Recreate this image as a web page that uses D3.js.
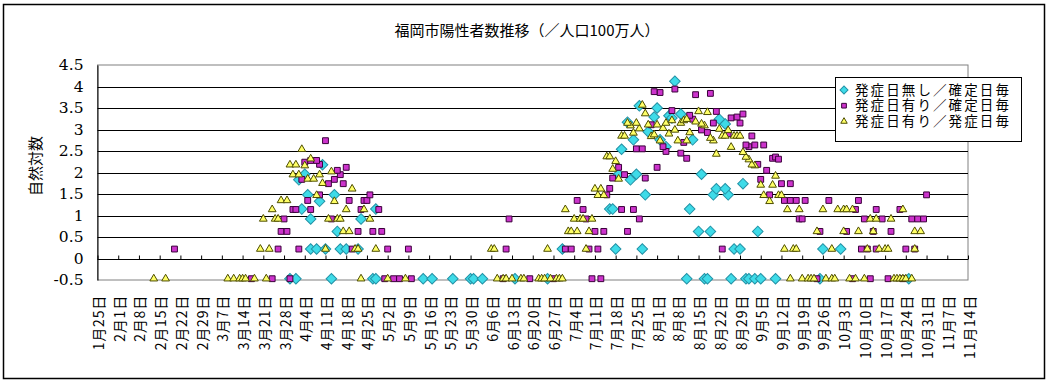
<!DOCTYPE html>
<html>
<head>
<meta charset="utf-8">
<script src="https://cdn.jsdelivr.net/npm/d3@7"></script>
<style>
  body { margin: 0; background: #fff; }
  svg { display: block; }
  text { fill: #000; }
</style>
</head>
<body>
<div id="chart"></div>
<script>
// ln(cases per million), per series  [date, value]
var seriesNoOnset = [
  ["3/30",-0.47],["4/1",-0.47],["4/13",-0.47],["4/27",-0.47],["4/28",-0.47],["5/14",-0.47],["5/17",-0.47],
  ["5/24",-0.47],["5/30",-0.47],["5/31",-0.47],["6/3",-0.47],["6/14",-0.47],["6/25",-0.47],["8/11",-0.47],
  ["8/17",-0.47],["8/18",-0.47],["8/26",-0.47],["8/31",-0.47],["9/1",-0.47],["9/3",-0.47],["9/5",-0.47],
  ["9/10",-0.47],["9/25",-0.47],["10/25",-0.47],
  ["4/6",0.22],["4/8",0.22],["4/11",0.22],["4/16",0.22],["4/18",0.22],["4/22",0.22],["6/30",0.22],
  ["7/18",0.22],["7/27",0.22],["8/27",0.22],["8/29",0.22],["9/26",0.22],["10/2",0.22],
  ["4/15",0.63],["8/15",0.63],["8/19",0.63],["9/4",0.63],
  ["4/6",0.92],["4/23",0.92],
  ["4/3",1.15],["4/28",1.15],["7/16",1.15],["7/17",1.15],["8/12",1.15],
  ["4/9",1.33],
  ["4/5",1.48],["4/14",1.48],["7/28",1.48],["8/20",1.48],["8/25",1.48],
  ["8/21",1.62],["8/24",1.62],["8/30",1.74],
  ["4/2",1.83],["7/23",1.83],
  ["4/4",1.96],["7/19",1.96],["7/25",1.96],["8/16",1.96],
  ["4/10",2.18],["7/20",2.54],["8/4",2.6],
  ["7/24",2.76],["8/2",2.76],["8/13",2.76],
  ["7/29",2.95],["8/24",3.13],["7/22",3.17],["8/22",3.24],["7/31",3.29],["8/5",3.32],["8/6",3.27],
  ["8/9",3.36],["8/1",3.5],["7/26",3.55],["8/7",4.12]
];

var seriesOnsetConfirmed = [
  ["3/17",-0.47],["3/24",-0.47],["3/30",-0.47],["5/1",-0.47],["5/4",-0.47],["5/6",-0.47],["5/10",-0.47],
  ["6/10",-0.47],["6/19",-0.47],["6/27",-0.47],["7/10",-0.47],["7/13",-0.47],["9/24",-0.47],["10/6",-0.47],
  ["10/12",-0.47],["10/18",-0.47],["10/23",-0.47],
  ["2/20",0.22],["3/26",0.22],["4/2",0.22],["4/20",0.22],["5/2",0.22],["5/9",0.22],["6/11",0.22],["7/1",0.22],
  ["7/3",0.22],["7/9",0.22],["7/12",0.22],["8/23",0.22],["10/9",0.22],["10/11",0.22],["10/14",0.22],
  ["10/24",0.22],["10/27",0.22],
  ["3/27",0.63],["3/29",0.63],["4/22",0.63],["4/27",0.63],["4/30",0.63],["7/11",0.63],["7/14",0.63],
  ["7/22",0.63],["9/25",0.63],["10/4",0.63],["10/13",0.63],["10/19",0.63],
  ["3/28",0.92],["4/13",0.92],["6/12",0.92],["7/8",0.92],["7/26",0.92],["9/18",0.92],["9/19",0.92],
  ["10/10",0.92],["10/16",0.92],["10/26",0.92],["10/28",0.92],["10/30",0.92],
  ["3/31",1.14],["4/1",1.14],["4/6",1.14],["4/23",1.14],["4/29",1.14],["7/7",1.14],["7/20",1.14],
  ["7/24",1.14],["10/7",1.14],["10/14",1.14],["10/22",1.14],
  ["4/5",1.35],["4/19",1.35],["4/24",1.35],["4/25",1.35],["7/5",1.35],["9/13",1.35],["9/15",1.35],
  ["9/17",1.35],["9/20",1.35],["9/28",1.35],["10/8",1.35],
  ["4/9",1.48],["4/26",1.48],["7/15",1.48],["9/8",1.48],["10/31",1.48],
  ["7/16",1.63],
  ["4/12",1.74],["4/17",1.74],["9/12",1.74],["9/15",1.74],
  ["4/3",1.84],["4/14",1.84],["9/5",1.84],
  ["7/17",1.87],["7/28",1.87],["4/16",1.95],["7/21",1.95],
  ["4/15",2.05],["9/7",2.05],
  ["4/18",2.12],["7/19",2.12],["8/1",2.12],
  ["4/9",2.19],["9/4",2.19],["4/4",2.24],["4/6",2.28],["4/8",2.28],
  ["8/11",2.33],["9/9",2.33],["9/10",2.36],["9/11",2.31],
  ["8/9",2.45],["8/4",2.49],["7/25",2.55],["7/27",2.55],
  ["8/3",2.6],["9/1",2.6],["8/31",2.64],["9/3",2.64],["9/6",2.64],
  ["8/10",2.7],["4/11",2.74],["9/2",2.85],["8/25",2.9],["8/18",2.93],["8/16",2.99],
  ["7/30",3.11],["8/20",3.15],["8/29",3.15],["8/13",3.24],["8/26",3.27],["8/28",3.29],
  ["8/12",3.33],["8/30",3.36],["8/21",3.42],["8/6",3.44],
  ["8/14",3.81],["8/19",3.84],["8/2",3.86],["7/31",3.88],["8/7",3.94]
];

var seriesOnsetOnset = [
  ["2/13",-0.47],["2/17",-0.47],["3/9",-0.47],["3/11",-0.47],["3/13",-0.47],["3/14",-0.47],["3/15",-0.47],
  ["3/18",-0.47],["3/22",-0.47],["4/23",-0.47],["5/2",-0.47],["5/8",-0.47],["6/8",-0.47],["6/10",-0.47],
  ["6/11",-0.47],["6/13",-0.47],["6/16",-0.47],["6/17",-0.47],["6/22",-0.47],["6/23",-0.47],["6/24",-0.47],
  ["6/26",-0.47],["6/28",-0.47],["6/29",-0.47],["6/30",-0.47],["9/15",-0.47],["9/19",-0.47],["9/21",-0.47],
  ["9/22",-0.47],["9/23",-0.47],["9/27",-0.47],["9/29",-0.47],["9/30",-0.47],["10/5",-0.47],["10/7",-0.47],
  ["10/10",-0.47],["10/20",-0.47],["10/21",-0.47],["10/22",-0.47],["10/23",-0.47],["10/24",-0.47],
  ["10/26",-0.47],
  ["3/20",0.22],["3/23",0.22],["4/11",0.22],["4/21",0.22],["4/22",0.22],["4/28",0.22],["6/6",0.22],
  ["6/7",0.22],["6/25",0.22],["7/8",0.22],["9/13",0.22],["9/16",0.22],["9/17",0.22],["9/29",0.22],
  ["10/11",0.22],["10/15",0.22],["10/17",0.22],["10/18",0.22],["10/27",0.22],
  ["4/17",0.63],["4/19",0.63],["7/2",0.63],["7/3",0.63],["7/5",0.63],["7/9",0.63],["9/24",0.63],
  ["10/3",0.63],["10/8",0.63],["10/13",0.63],["10/27",0.63],["10/29",0.63],
  ["3/21",0.92],["3/25",0.92],["3/26",0.92],["4/12",0.92],["4/15",0.92],["4/16",0.92],["4/26",0.92],
  ["7/4",0.92],["7/6",0.92],["7/7",0.92],["7/10",0.92],["10/12",0.92],["10/14",0.92],["10/19",0.92],
  ["3/24",1.14],["4/18",1.14],["4/24",1.14],["7/1",1.14],["9/14",1.14],["9/18",1.14],["9/26",1.14],
  ["10/1",1.14],["10/3",1.14],["10/4",1.14],["10/6",1.14],["10/23",1.14],
  ["4/14",1.33],["9/8",1.33],["3/27",1.35],["3/29",1.35],
  ["4/8",1.47],["7/12",1.47],["7/14",1.47],["9/6",1.47],["9/11",1.47],["9/12",1.47],
  ["4/20",1.62],["7/11",1.62],["7/13",1.62],
  ["9/5",1.71],["9/9",1.71],["4/10",1.75],
  ["4/5",1.85],["4/7",1.85],["7/19",1.85],["9/10",1.92],
  ["3/31",1.95],["4/2",1.95],["4/9",1.95],["4/13",2.02],["7/17",2.08],
  ["4/4",2.16],["9/3",2.16],["3/30",2.18],["4/1",2.18],["9/2",2.18],
  ["7/18",2.26],["9/1",2.3],["4/6",2.32],["8/31",2.36],["7/15",2.37],["7/16",2.37],
  ["8/21",2.43],["8/30",2.47],["4/3",2.54],["8/26",2.59],
  ["8/2",2.74],["8/8",2.74],["8/11",2.74],["8/20",2.74],["8/19",2.8],["7/30",2.84],
  ["7/20",2.85],["7/21",2.85],["8/23",2.85],["8/24",2.85],["8/27",2.85],["8/28",2.85],["8/29",2.85],
  ["7/31",2.88],["8/5",2.9],["7/24",2.92],["8/12",2.93],["8/25",2.98],["8/7",2.99],["8/22",3.01],
  ["7/26",3.02],["8/3",3.03],["7/23",3.09],["8/17",3.09],["7/29",3.11],["8/1",3.11],["8/16",3.13],
  ["7/22",3.15],["7/25",3.15],["8/4",3.15],["8/9",3.15],["8/14",3.18],["8/6",3.21],["8/10",3.21],
  ["8/11",3.24],["7/28",3.37],["8/18",3.4],["8/15",3.42],["7/27",3.57]
];

var seriesNames = ["発症日無し／確定日毎", "発症日有り／確定日毎", "発症日有り／発症日毎"];
var yTicks = [-0.5, 0, 0.5, 1, 1.5, 2, 2.5, 3, 3.5, 4, 4.5];
var xStart = "1/25", xEnd = "11/14";
var titleText = "福岡市陽性者数推移（／人口100万人）";
var yLabel = "自然対数";

var width = 1050, height = 384;
var parse = function(s) { return d3.timeParse("%Y/%m/%d")("2020/" + s); };

var svg = d3.select("#chart").append("svg")
  .attr("width", width)
  .attr("height", height);

// outer frame
svg.append("rect")
  .attr("x", 3.5).attr("y", 4.5)
  .attr("width", 1041).attr("height", 374)
  .attr("fill", "#fff")
  .attr("stroke", "#000")
  .attr("stroke-width", 1.5);

var x = d3.scaleTime()
  .domain([parse(xStart), parse(xEnd)])
  .range([97.5, 968]);

var y = d3.scaleLinear()
  .domain([-0.5, 4.5])
  .range([280, 65]);

// title
svg.append("text")
  .attr("x", 527).attr("y", 36)
  .attr("text-anchor", "middle")
  .style("font-family", "'Noto Sans CJK JP'")
  .style("font-size", "15px")
  .text(titleText);

// y label
svg.append("text")
  .attr("transform", "translate(34,166) rotate(-90)")
  .attr("text-anchor", "middle")
  .attr("dominant-baseline", "central")
  .style("font-family", "'Noto Sans CJK JP'")
  .style("font-size", "15px")
  .text(yLabel);

// plot border (gray) and gridlines
svg.append("rect")
  .attr("x", x.range()[0]).attr("y", y(4.5))
  .attr("width", x.range()[1] - x.range()[0])
  .attr("height", y(-0.5) - y(4.5))
  .attr("fill", "none")
  .attr("stroke", "#808080");

svg.append("g")
  .selectAll("line")
  .data(yTicks.filter(function(d) { return d >= 0 && d < 4.5; }))
  .join("line")
  .attr("x1", x.range()[0]).attr("x2", x.range()[1])
  .attr("y1", function(d) { return Math.round(y(d)) + 0.5; })
  .attr("y2", function(d) { return Math.round(y(d)) + 0.5; })
  .attr("stroke", "#000");

// y axis
var yAxis = svg.append("g")
  .attr("transform", "translate(" + x.range()[0] + ",0)")
  .call(d3.axisLeft(y).tickValues(yTicks).tickSize(0).tickPadding(14)
    .tickFormat(function(d) { return String(d); }));
yAxis.select(".domain").attr("stroke", "#000");
yAxis.selectAll("text")
  .style("font-family", "'DejaVu Serif'")
  .style("font-size", "15.5px");

// x ticks up from the zero line
var weeks = d3.timeSaturday.range(parse(xStart), d3.timeDay.offset(parse(xEnd), 1));
var xTickAxis = svg.append("g")
  .attr("transform", "translate(0," + (Math.round(y(0)) + 0.5) + ")")
  .call(d3.axisTop(x).tickValues(weeks).tickSize(4).tickFormat(""));
xTickAxis.select(".domain").remove();
xTickAxis.selectAll("line").attr("stroke", "#000");

// x labels, rotated
var fmt = d3.timeFormat("%-m月%-d日");
var xAxis = svg.append("g")
  .attr("transform", "translate(0," + y(-0.5) + ")")
  .call(d3.axisBottom(x).tickValues(weeks).tickSize(0).tickFormat(fmt));
xAxis.select(".domain").remove();
xAxis.selectAll("text")
  .attr("transform", "rotate(-90)")
  .attr("x", -15).attr("y", 0).attr("dy", null)
  .attr("text-anchor", "end")
  .attr("dominant-baseline", "central")
  .style("font-family", "'Noto Sans CJK JP'")
  .style("font-size", "14px")
  .style("letter-spacing", "0.8px");

// markers
var diamond = d3.symbol(d3.symbolSquare, 56);
var square = d3.symbol(d3.symbolSquare, 34);
var triangle = d3.symbol(d3.symbolTriangle, 26);

var styles = [
  { data: seriesNoOnset, path: diamond(), rot: 45, fill: "#3edbe8", stroke: "#2392a6" },
  { data: seriesOnsetConfirmed, path: square(), rot: 0, fill: "#cc33cc", stroke: "#3a003a" },
  { data: seriesOnsetOnset, path: triangle(), rot: 0, fill: "#ffff66", stroke: "#4d4d00" }
];

styles.forEach(function(s) {
  svg.append("g")
    .selectAll("path")
    .data(s.data)
    .join("path")
    .attr("d", s.path)
    .attr("transform", function(d) {
      return "translate(" + x(parse(d[0])) + "," + y(d[1]) + ") rotate(" + s.rot + ")";
    })
    .attr("fill", s.fill)
    .attr("stroke", s.stroke)
    .attr("stroke-width", 1);
});

// legend
var legend = svg.append("g").attr("transform", "translate(835,77)");
legend.append("rect")
  .attr("x", 0.5).attr("y", 0.5)
  .attr("width", 186).attr("height", 64)
  .attr("fill", "#fff")
  .attr("stroke", "#000");

var legendSymbols = [
  d3.symbol(d3.symbolSquare, 32)(),
  d3.symbol(d3.symbolSquare, 22)(),
  d3.symbol(d3.symbolTriangle, 18)()
];

seriesNames.forEach(function(name, i) {
  var row = legend.append("g").attr("transform", "translate(0," + (13 + i * 15.7) + ")");
  row.append("path")
    .attr("d", legendSymbols[i])
    .attr("transform", "translate(9,0) rotate(" + styles[i].rot + ")")
    .attr("fill", styles[i].fill)
    .attr("stroke", styles[i].stroke);
  row.append("text")
    .attr("x", 20).attr("y", 0)
    .attr("dominant-baseline", "central")
    .style("font-family", "'Liberation Sans', 'Noto Sans CJK JP'")
    .style("font-size", "13.5px")
    .style("letter-spacing", "2.1px")
    .text(name);
});
</script>
</body>
</html>
